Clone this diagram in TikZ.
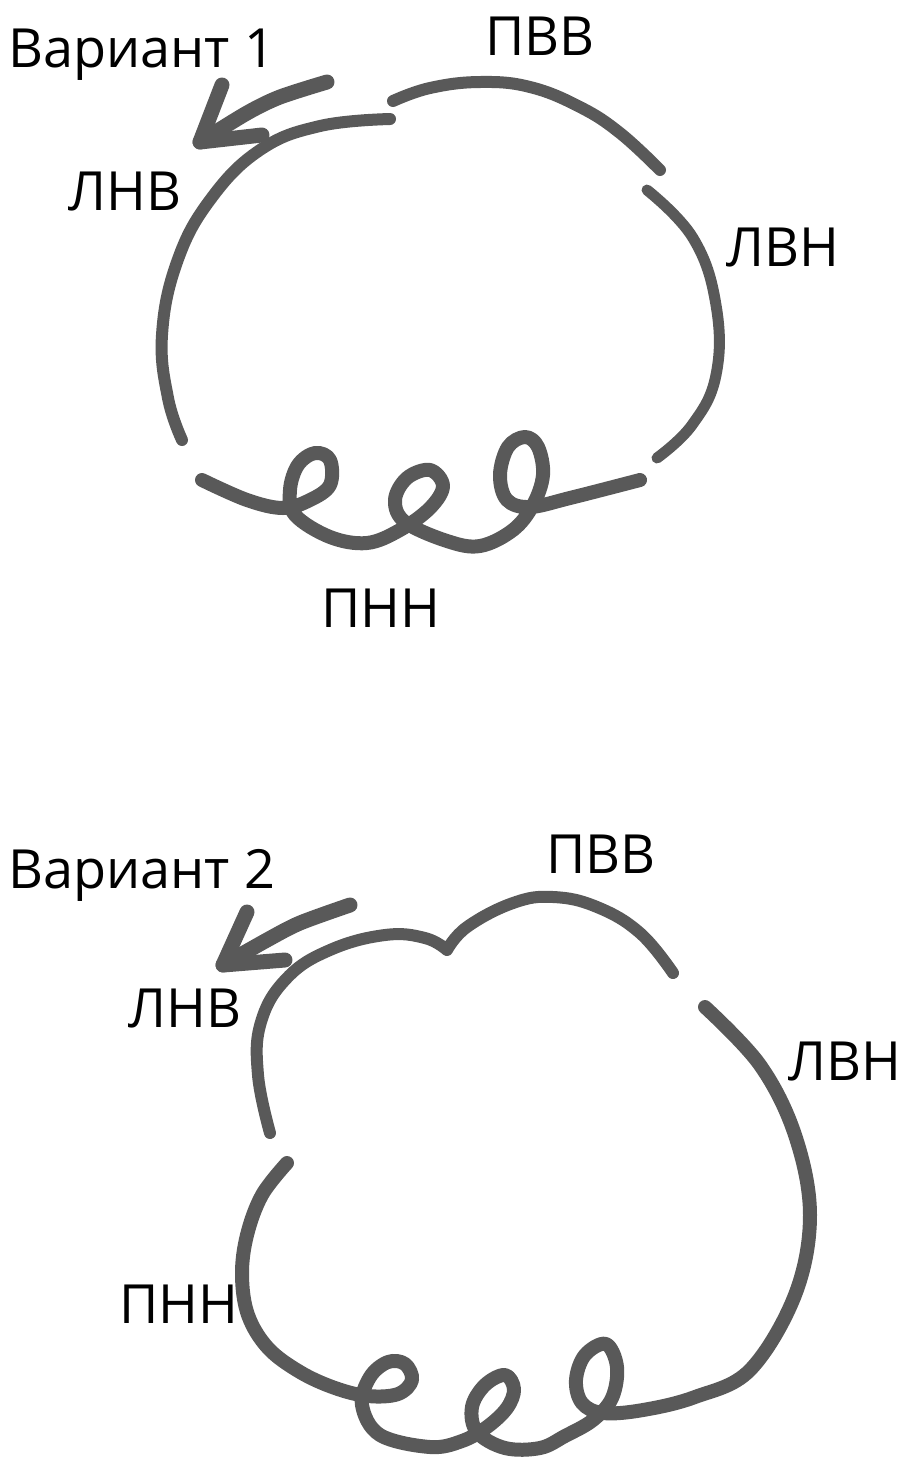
\documentclass[tikz,border=0pt]{standalone}
\usepackage{fontspec}
\setmainfont{Open Sans}
\begin{document}
\begin{tikzpicture}[x=1pt, y=-1pt,
    strand/.style={line width=13pt, draw=black!65, line cap=round, line join=round},
    lbl/.style={inner sep=0pt, anchor=base west, font=\fontsize{54}{54}\selectfont}]
\useasboundingbox (0,0) rectangle (909,1468);

% Вариант 1
\node[lbl] (var1) at (8,67) {Вариант 1};
\node[lbl] (pvv1) at (485,55) {ПВВ};
\node[lbl] (lnv1) at (68,210) {ЛНВ};
\node[lbl] (lvn1) at (726,266) {ЛВН};
\node[lbl] (pnn1) at (321,627) {ПНН};
\draw[strand, line width=15pt] plot[smooth] coordinates {(327,82) (280,97) (247,113) (200,142)};
\draw[strand, line width=15pt] (222,85) -- (200,142) -- (262,135);
\draw[strand, line width=12pt] plot[smooth, tension=0.7] coordinates {(390,119) (320,126) (260,150) (210,200) (177,262) (162,335) (168,398) (182,440)};
\draw[strand, line width=12pt] plot[smooth, tension=0.7] coordinates {(393,101) (430,88) (480,82) (530,87) (580,107) (620,133) (660,170)};
\draw[strand, line width=11pt] plot[smooth, tension=0.7] coordinates {(647,190) (693,238) (716,305) (716,375) (692,425) (657,458)};
\draw[strand, line width=14pt] plot[smooth, tension=0.6] coordinates {(202,480) (247,500) (283,508) (310,500) (330,485) (330,460) (315,453) (298,465) (290,490) (295,515) (330,537) (367,543) (400,530) (430,508) (443,486) (430,470) (407,478) (395,500) (405,522) (447,541) (480,546) (513,530) (533,505) (543,475) (538,447) (525,437) (508,447) (500,475) (507,500) (530,507) (570,498) (640,480)};

% Вариант 2
\node[lbl] (var2) at (8,888) {Вариант 2};
\node[lbl] (pvv2) at (546,873) {ПВВ};
\node[lbl] (lnv2) at (128,1027) {ЛНВ};
\node[lbl] (lvn2) at (788,1080) {ЛВН};
\node[lbl] (pnn2) at (119,1323) {ПНН};
\draw[strand, line width=15pt] plot[smooth] coordinates {(350,905) (300,923) (267,940) (223,965)};
\draw[strand, line width=15pt] (247,912) -- (223,965) -- (285,960);
\draw[strand, line width=12pt] plot[smooth, tension=0.7] coordinates {(270,1133) (258,1075) (261,1022) (287,978) (330,950) (385,935) (425,938) (447,950)}
    -- plot[smooth, tension=0.7] coordinates {(447,950) (467,927) (513,903) (553,897) (597,907) (640,933) (673,973)};
\draw[strand, line width=14pt] plot[smooth, tension=0.6] coordinates {(287,1163) (262,1195) (247,1235) (242,1275) (248,1315) (268,1348) (300,1372) (335,1388) (368,1396) (398,1394) (412,1380) (405,1364) (388,1362) (370,1377) (362,1405) (380,1435) (430,1447) (462,1441) (487,1427) (507,1408) (514,1389) (505,1375) (485,1385) (472,1407) (477,1432) (505,1448) (540,1448) (565,1436) (593,1420) (612,1398) (617,1367) (606,1344) (585,1355) (576,1380) (582,1403) (603,1413) (643,1410) (695,1397) (750,1370) (795,1295) (810,1215) (795,1135) (760,1065) (705,1007)};
\end{tikzpicture}
\end{document}
